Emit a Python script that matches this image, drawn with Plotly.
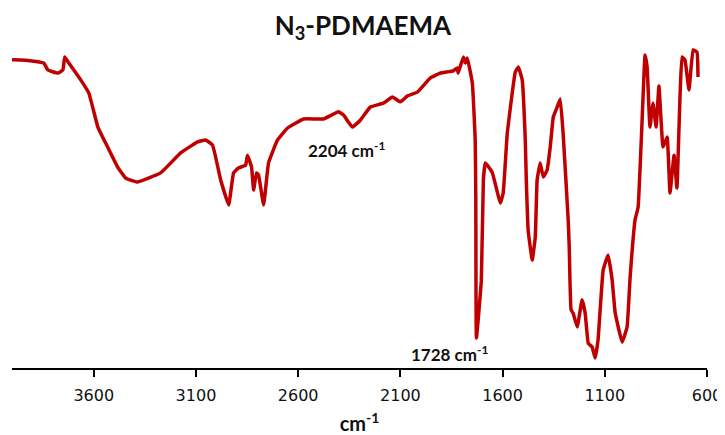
import plotly.graph_objects as go

# Wavenumber (cm-1) and transmittance (a.u., %)
wavenumber = [4000, 3991, 3893, 3844, 3825, 3776, 3751, 3742, 3722, 3664, 3624, 3580, 3532, 3483, 3444,
              3385, 3273, 3175, 3092, 3053, 3019, 2979, 2940, 2916, 2892, 2857, 2848, 2828, 2818, 2804,
              2794, 2769, 2745, 2701, 2652, 2574, 2476, 2403, 2378, 2335, 2295, 2247, 2183, 2139, 2100,
              2066, 2017, 1953, 1905, 1841, 1822, 1817, 1792, 1782, 1773, 1748, 1734, 1731, 1728, 1704,
              1694, 1685, 1675, 1650, 1611, 1597, 1577, 1553, 1538, 1523, 1504, 1489, 1484, 1475, 1455,
              1440, 1431, 1416, 1401, 1382, 1367, 1352, 1333, 1318, 1304, 1279, 1274, 1265, 1255, 1235,
              1211, 1196, 1181, 1162, 1147, 1133, 1108, 1084, 1064, 1049, 1015, 991, 976, 952, 937,
              918, 903, 893, 879, 864, 849, 835, 815, 795, 781, 761, 747, 722, 708, 688,
              668, 649, 644]
transmittance = [95.4, 95.4, 95.0, 94.4, 92.3, 91.3, 92.3, 96.3, 94.4, 89.2, 85.1, 74.6, 68.4, 62.2, 58.8,
                 57.6, 60.4, 66.6, 70.0, 70.6, 69.0, 58.2, 50.5, 60.4, 61.9, 62.8, 65.9, 62.2, 55.1, 60.4,
                 59.8, 50.5, 63.5, 70.6, 74.3, 77.1, 77.1, 79.3, 78.3, 74.6, 76.8, 80.8, 82.0, 83.9, 82.4,
                 84.2, 85.4, 89.8, 91.3, 92.0, 92.9, 91.3, 96.3, 94.4, 96.0, 88.2, 70.6, 52.0, 9.3, 27.2,
                 58.2, 63.5, 62.8, 60.4, 51.1, 54.2, 72.8, 85.1, 91.6, 93.2, 89.2, 70.6, 58.2, 42.7, 33.4,
                 40.6, 58.2, 63.5, 59.1, 61.3, 68.4, 77.7, 80.8, 83.3, 72.8, 45.8, 37.5, 18.0, 17.0, 12.7,
                 21.1, 17.0, 7.7, 6.5, 3.1, 8.7, 30.3, 35.0, 27.2, 17.0, 8.0, 12.7, 28.2, 45.8, 49.8,
                 75.9, 96.9, 93.2, 74.6, 82.0, 74.6, 87.3, 68.4, 71.5, 54.2, 65.9, 55.7, 96.3, 95.4, 86.1,
                 98.5, 97.8, 90.1]

tick_values = [3600, 3100, 2600, 2100, 1600, 1100, 600]
tick_labels = ["3600", "3100", "2600", "2100", "1600", "1100", "600"]

BOLD_FONT = "Lato, Open Sans, sans-serif"

fig = go.Figure()
fig.add_trace(go.Scatter(x=wavenumber, y=transmittance, mode="lines",
                         line=dict(color="#C00000", width=3.5, shape="spline", smoothing=0.3),
                         showlegend=False, hoverinfo="x+y"))

fig.add_annotation(x=2364, y=67.5, text="<b>2204 cm<sup>-1</sup></b>", showarrow=False,
                   font=dict(family=BOLD_FONT, size=17, color="#111"))
fig.add_annotation(x=1861, y=4.6, text="<b>1728 cm<sup>-1</sup></b>", showarrow=False,
                   font=dict(family=BOLD_FONT, size=17, color="#111"))

fig.update_layout(
    width=717, height=427,
    margin=dict(l=4, r=18, t=37, b=67, autoexpand=False),
    paper_bgcolor="white", plot_bgcolor="white",
    title=dict(text="<b>N<sub>3</sub>-PDMAEMA</b>", x=0.495, xanchor="center", y=0.958, yanchor="middle",
               font=dict(family=BOLD_FONT, size=26, color="#111")),
    xaxis=dict(range=[4000, 600], tickvals=tick_values, ticktext=tick_labels, automargin=False,
               ticks="outside", ticklen=7, tickwidth=1.5, tickcolor="black", ticklabelstandoff=5,
               showline=True, linecolor="black", linewidth=1.5, showgrid=False, zeroline=False,
               tickfont=dict(family="DejaVu Sans, Verdana, sans-serif", size=16, color="#111"),
               title=dict(text="<b>cm<sup>-1</sup></b>", standoff=16,
                          font=dict(family=BOLD_FONT, size=20, color="#111"))),
    yaxis=dict(range=[0, 100], visible=False, showgrid=False, zeroline=False, automargin=False),
)

fig.write_html("out.html")
